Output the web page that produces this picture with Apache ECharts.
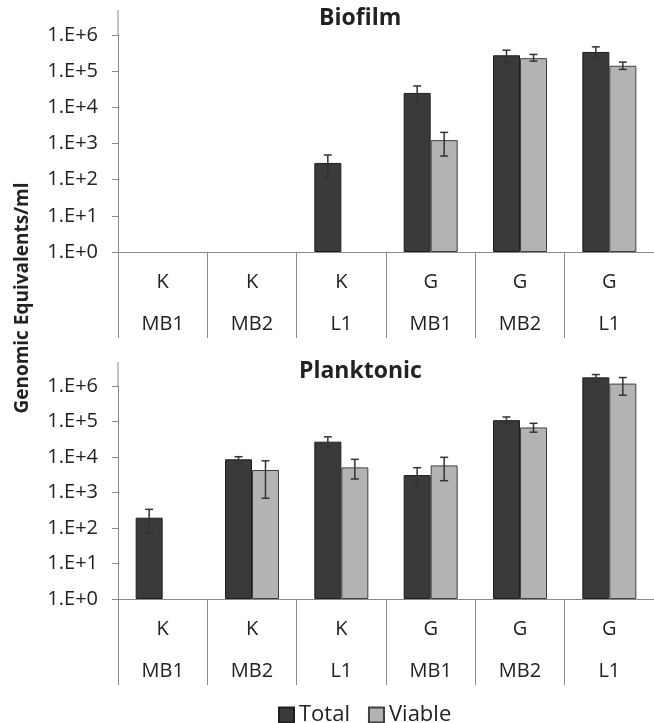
<!DOCTYPE html>
<html>
<head>
<meta charset="utf-8">
<script src="https://cdn.jsdelivr.net/npm/echarts@6/dist/echarts.min.js"></script>
<style>
  html, body { margin: 0; padding: 0; background: #fff; }
  #main { width: 654px; height: 723px; }
</style>
</head>
<body>
<div id="main"></div>
<script>
// categories (two label rows)
var strains = ['K', 'K', 'K', 'G', 'G', 'G'];
var sites = ['MB1', 'MB2', 'L1', 'MB1', 'MB2', 'L1'];

// Biofilm
var bioTotal = [null, null, 290, 25000, 275000, 340000];
var bioTotalLow = [null, null, 110, 13000, 174000, 234000];
var bioTotalHigh = [null, null, 480, 39000, 380000, 470000];
var bioViable = [null, null, null, 1240, 229000, 141000];
var bioViableLow = [null, null, null, 450, 190000, 112000];
var bioViableHigh = [null, null, null, 2030, 290000, 178000];

// Planktonic
var plaTotal = [195, 8600, 27000, 3100, 109000, 1750000];
var plaTotalLow = [71, 6900, 17400, 1400, 88000, 1300000];
var plaTotalHigh = [335, 10200, 37000, 5000, 134000, 2100000];
var plaViable = [null, 4300, 5100, 5800, 68000, 1170000];
var plaViableLow = [null, 690, 2400, 2150, 50000, 550000];
var plaViableHigh = [null, 7800, 8600, 9800, 89000, 1730000];

var categories = strains.map(function (s, i) { return s + '\n' + sites[i]; });

var FONT = '"Open Sans", "Liberation Sans", sans-serif';
var AXIS_COLOR = '#8a8a8a';
var TEXT_COLOR = '#222';
var BAR_W = 27;

// layout
var GL = 118, GW = 546;
var grids = [
  { left: GL, width: GW, top: 35, height: 217 },
  { left: GL, width: GW, top: 386, height: 213 }
];

var chart = echarts.init(document.getElementById('main'));

function xAxisFor(i) {
  return {
    type: 'category', gridIndex: i, data: categories,
    axisLine: { lineStyle: { color: AXIS_COLOR, width: 1 } },
    axisTick: { show: true, interval: 0, length: 86, lineStyle: { color: AXIS_COLOR } },
    axisLabel: {
      interval: 0, margin: 9, fontSize: 20, lineHeight: 42,
      fontFamily: FONT, color: TEXT_COLOR
    }
  };
}

function yAxisFor(i) {
  return {
    type: 'log', gridIndex: i, logBase: 10, min: 1, max: 1e6,
    axisLine: { show: true, lineStyle: { color: AXIS_COLOR, width: 1 } },
    axisTick: { show: true, length: 6, lineStyle: { color: AXIS_COLOR } },
    splitLine: { show: false },
    axisLabel: {
      margin: 20, fontSize: 20, fontFamily: FONT, color: TEXT_COLOR,
      formatter: function (v) { return '1.E+' + Math.round(Math.log10(v)); }
    }
  };
}

function barSeries(name, i, data, fill, border) {
  return {
    name: name, type: 'bar', xAxisIndex: i, yAxisIndex: i,
    data: data, barWidth: BAR_W, barGap: '0%', clip: false,
    itemStyle: { color: fill, borderColor: border, borderWidth: 1 }
  };
}

function errorSeries(name, i, low, high, shift) {
  var data = [];
  low.forEach(function (v, k) { if (v != null) data.push([k, v, high[k]]); });
  return {
    name: name, type: 'custom', xAxisIndex: i, yAxisIndex: i, z: 10,
    data: data, encode: { x: 0, y: [1, 2] },
    renderItem: function (params, api) {
      var lo = api.coord([api.value(0), api.value(1)]);
      var hi = api.coord([api.value(0), api.value(2)]);
      var x = lo[0] + shift, c = 4;
      var st = { stroke: '#333', lineWidth: 1.5 };
      return {
        type: 'group',
        children: [
          { type: 'line', shape: { x1: x, y1: lo[1], x2: x, y2: hi[1] }, style: st },
          { type: 'line', shape: { x1: x - c, y1: lo[1], x2: x + c, y2: lo[1] }, style: st },
          { type: 'line', shape: { x1: x - c, y1: hi[1], x2: x + c, y2: hi[1] }, style: st }
        ]
      };
    }
  };
}

var option = {
  animation: false,
  backgroundColor: '#fff',
  title: [
    { text: 'Biofilm', left: 314, top: 2,
      textStyle: { fontSize: 23, fontWeight: 'bold', fontFamily: FONT, color: TEXT_COLOR } },
    { text: 'Planktonic', left: 294, top: 355,
      textStyle: { fontSize: 23, fontWeight: 'bold', fontFamily: FONT, color: TEXT_COLOR } }
  ],
  legend: {
    data: ['Total', 'Viable'], left: 273, top: 699,
    icon: 'rect', itemWidth: 15, itemHeight: 15, itemGap: 18,
    textStyle: { fontSize: 22, fontFamily: FONT, color: TEXT_COLOR }
  },
  grid: grids,
  xAxis: [xAxisFor(0), xAxisFor(1)],
  yAxis: [yAxisFor(0), yAxisFor(1)],
  graphic: [
    // y axis line continues a little above the top tick
    { type: 'line', shape: { x1: GL, y1: 10, x2: GL, y2: grids[0].top }, style: { stroke: AXIS_COLOR, lineWidth: 1 } },
    { type: 'line', shape: { x1: GL, y1: 362, x2: GL, y2: grids[1].top }, style: { stroke: AXIS_COLOR, lineWidth: 1 } },
    { type: 'text', x: 23, y: 298, rotation: Math.PI / 2,
      style: { text: 'Genomic Equivalents/ml', font: 'bold 19px ' + FONT, fill: TEXT_COLOR,
        textAlign: 'center', textVerticalAlign: 'middle' } }
  ],
  series: [
    barSeries('Total', 0, bioTotal, '#3a3a3a', '#1e1e1e'),
    barSeries('Viable', 0, bioViable, '#b3b3b3', '#404040'),
    barSeries('Total', 1, plaTotal, '#3a3a3a', '#1e1e1e'),
    barSeries('Viable', 1, plaViable, '#b3b3b3', '#404040'),
    errorSeries('Total', 0, bioTotalLow, bioTotalHigh, -BAR_W / 2),
    errorSeries('Viable', 0, bioViableLow, bioViableHigh, BAR_W / 2),
    errorSeries('Total', 1, plaTotalLow, plaTotalHigh, -BAR_W / 2),
    errorSeries('Viable', 1, plaViableLow, plaViableHigh, BAR_W / 2)
  ]
};

chart.setOption(option);
</script>
</body>
</html>
